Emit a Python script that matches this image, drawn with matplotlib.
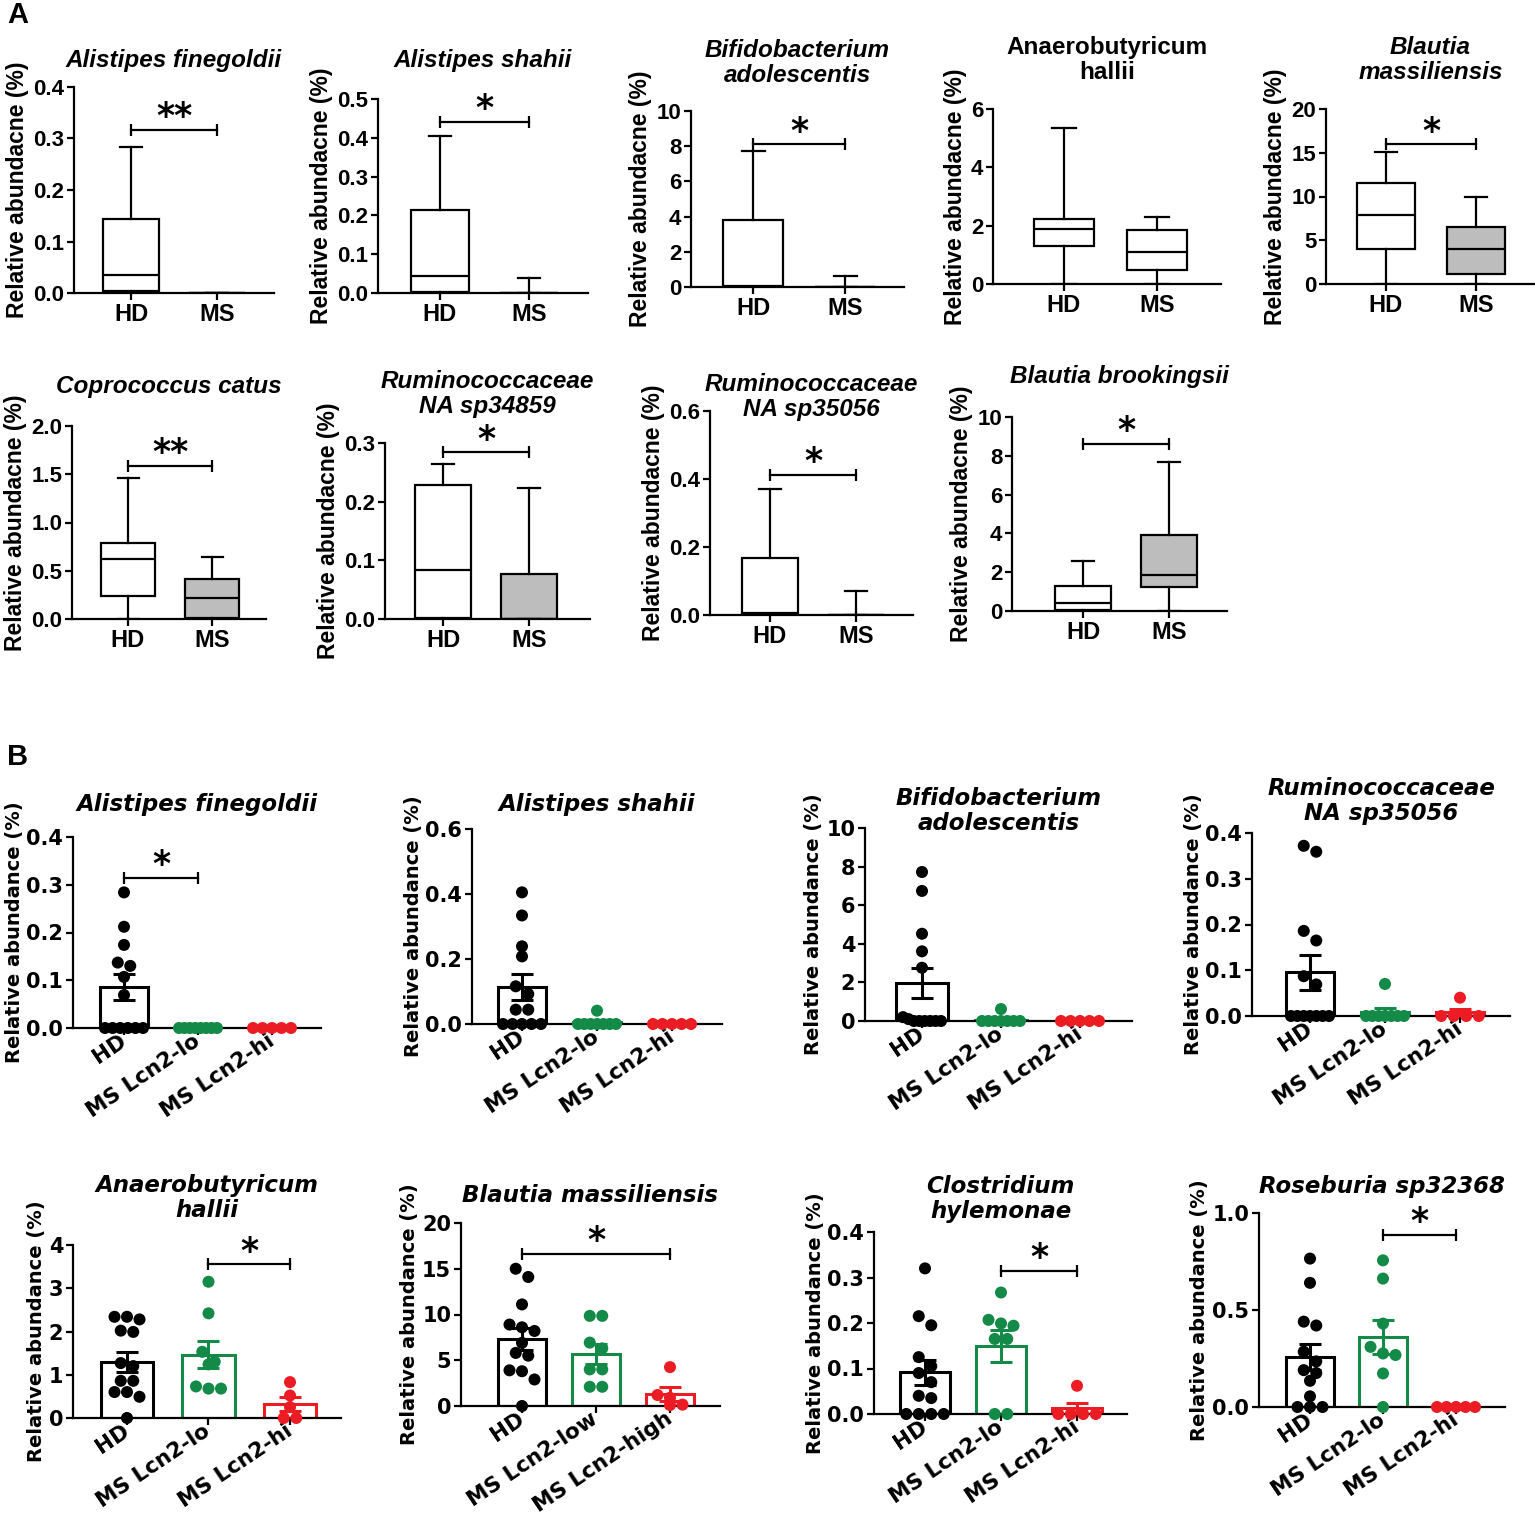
import numpy as np
import matplotlib
matplotlib.use("Agg")
import matplotlib.pyplot as plt
from matplotlib.ticker import FormatStrFormatter

W, H = 1535, 1517

# ---------------- panel A: box plots, HD vs MS ----------------
a_titles = ["Alistipes finegoldii", "Alistipes shahii", "Bifidobacterium\nadolescentis",
            "Anaerobutyricum\nhallii", "Blautia\nmassiliensis", "Coprococcus catus",
            "Ruminococcaceae\nNA sp34859", "Ruminococcaceae\nNA sp35056", "Blautia brookingsii"]
a_italic = [True, True, True, False, True, True, True, True, True]
# (whislo, q1, median, q3, whishi)
a_hd = [(0, 0.003, 0.034, 0.143, 0.284),
        (0, 0.002, 0.043, 0.213, 0.405),
        (0, 0.02, 0.08, 3.8, 7.7),
        (0, 1.31, 1.89, 2.24, 5.35),
        (0, 4.0, 7.9, 11.5, 15.05),
        (0, 0.24, 0.62, 0.79, 1.456),
        (0, 0.002, 0.084, 0.229, 0.264),
        (0, 0.002, 0.005, 0.167, 0.37),
        (0, 0.07, 0.43, 1.28, 2.59)]
a_ms = [(0, 0, 0, 0, 0),
        (0, 0, 0, 0, 0.039),
        (0, 0, 0, 0, 0.6),
        (0, 0.49, 1.10, 1.86, 2.29),
        (0, 1.14, 4.0, 6.5, 9.9),
        (0, 0.01, 0.22, 0.41, 0.647),
        (0, 0, 0, 0.076, 0.223),
        (0, 0, 0, 0, 0.071),
        (0, 1.24, 1.84, 3.91, 7.69)]
a_ms_grey = [False, False, False, False, True, True, True, False, True]
a_sig = [("**", 0.316), ("*", 0.44), ("*", 8.1), None, ("*", 15.96),
         ("**", 1.584), ("*", 0.284), ("*", 0.412), ("*", 8.62)]
a_ymax = [0.4, 0.5, 10, 6, 20, 2.0, 0.3, 0.6, 10]
a_ystep = [0.1, 0.1, 2, 2, 5, 0.5, 0.1, 0.2, 2]
a_groups = ["HD", "MS"]

# ---------------- panel B: bar + scatter, HD / MS Lcn2-lo / MS Lcn2-hi ----------------
b_titles = ["Alistipes finegoldii", "Alistipes shahii", "Bifidobacterium\nadolescentis",
            "Ruminococcaceae\nNA sp35056", "Anaerobutyricum\nhallii", "Blautia massiliensis",
            "Clostridium\nhylemonae", "Roseburia sp32368"]
b_hd = [[0.284, 0.212, 0.174, 0.137, 0.130, 0.107, 0.069, 0, 0, 0, 0, 0, 0],
        [0.405, 0.334, 0.239, 0.208, 0.116, 0.092, 0.044, 0.044, 0, 0, 0, 0, 0],
        [7.72, 6.74, 4.52, 3.61, 2.76, 0.2, 0.1, 0, 0, 0, 0, 0, 0],
        [0.372, 0.359, 0.186, 0.165, 0.087, 0.069, 0, 0, 0, 0, 0, 0, 0],
        [2.28, 2.34, 2.34, 1.99, 2.02, 1.27, 1.20, 0.86, 0.86, 0.60, 0.60, 0.49, 0],
        [15.0, 14.1, 11.1, 8.9, 8.6, 8.2, 6.9, 5.8, 5.5, 3.9, 3.8, 2.9, 0],
        [0.32, 0.215, 0.195, 0.125, 0.105, 0.09, 0.07, 0.04, 0.035, 0, 0, 0, 0],
        [0.765, 0.64, 0.44, 0.42, 0.285, 0.235, 0.19, 0.175, 0.135, 0.055, 0, 0, 0]]
b_lo = [[0, 0, 0, 0, 0, 0, 0, 0],
        [0.041, 0, 0, 0, 0, 0, 0, 0],
        [0.62, 0, 0, 0, 0, 0, 0, 0],
        [0.07, 0, 0, 0, 0, 0, 0, 0],
        [3.15, 2.42, 1.53, 1.30, 1.24, 0.73, 0.68, 0.68],
        [9.85, 9.85, 6.93, 6.3, 4.0, 4.0, 2.1, 2.1],
        [0.267, 0.207, 0.199, 0.194, 0.165, 0.165, 0, 0],
        [0.756, 0.662, 0.43, 0.31, 0.276, 0.268, 0.173, 0]]
b_hi = [[0, 0, 0, 0, 0],
        [0, 0, 0, 0, 0],
        [0, 0, 0, 0, 0],
        [0.04, 0, 0, 0, 0],
        [0.83, 0.52, 0.25, 0, 0],
        [4.25, 1.2, 0.9, 0.15, 0.1],
        [0.062, 0, 0, 0, 0],
        [0, 0, 0, 0, 0]]
# (group i, group j, label, height)
b_sig = [(0, 1, "*", 0.315), None, None, None, (1, 2, "*", 3.55),
         (0, 2, "*", 16.6), (1, 2, "*", 0.315), (1, 2, "*", 0.889)]
b_ymax = [0.4, 0.6, 10, 0.4, 4, 20, 0.4, 1.0]
b_ystep = [0.1, 0.2, 2, 0.1, 1, 5, 0.1, 0.5]
b_groups = ["HD", "MS Lcn2-lo", "MS Lcn2-hi"]
b_groups_alt = ["HD", "MS Lcn2-low", "MS Lcn2-high"]
b_colors = ["#000000", "#138a47", "#ec1c24"]

# layout in pixels: y-axis x, x-axis end, y of zero, y of top tick, first category x, category step, title y
a_layout = [(74, 274, 293, 87, 131, 86, 61),
            (378, 588, 293, 99, 440, 89, 61),
            (691, 904, 287, 111, 753, 92, 63),
            (993, 1221, 284, 109, 1064, 93, 60),
            (1326, 1535, 284, 109, 1386, 90, 60),
            (72, 266, 619, 426, 128, 84, 387),
            (385, 590, 619, 443, 443, 86, 394),
            (710, 913, 615, 411, 770, 86, 397),
            (1012, 1227, 611, 417, 1083, 86, 377)]
b_layout = [(73, 321, 1028, 837, 124, 74, 805),
            (472, 722, 1024, 829, 522, 75, 805),
            (865, 1132, 1021, 828, 922, 79, 811),
            (1252, 1510, 1016, 833, 1310, 75, 801),
            (73, 341, 1418, 1245, 127, 81.5, 1198),
            (461, 720, 1406, 1223, 522, 74, 1195),
            (874, 1127, 1414, 1232, 925, 76, 1199),
            (1259, 1505, 1407, 1213, 1310, 73, 1187)]

FA = "Liberation Sans"
FB = "DejaVu Sans"
LW = 1.6

fig = plt.figure(figsize=(W / 100, H / 100), dpi=100)


def make_ax(lay, ymax, ystep, font, tick_fs):
    x0, x1, y0, yt, c0, step, _ = lay
    ax = fig.add_axes([x0 / W, 1 - y0 / H, (x1 - x0) / W, (y0 - yt) / H])
    lo = -(c0 - x0) / step
    ax.set_xlim(lo, lo + (x1 - x0) / step)
    ax.set_ylim(0, ymax)
    ax.set_yticks(np.arange(0, ymax + ystep / 2, ystep))
    ax.yaxis.set_major_formatter(FormatStrFormatter("%.1f" if ystep < 1 else "%d"))
    for s in ["top", "right"]:
        ax.spines[s].set_visible(False)
    for s in ["left", "bottom"]:
        ax.spines[s].set_linewidth(LW)
    ax.tick_params(width=LW, length=5, pad=2)
    ax.patch.set_alpha(0)
    for lab in ax.get_yticklabels():
        lab.set_fontfamily(font)
        lab.set_fontweight("bold")
        lab.set_fontsize(tick_fs)
    return ax


def sig_bar(ax, i, j, y, s, fs):
    ax.plot([i, j], [y, y], color="black", lw=LW, marker="|", markersize=9, mew=LW,
            clip_on=False, zorder=6)
    ax.annotate(s, ((i + j) / 2, y), xytext=(0, -3), textcoords="offset points",
                ha="center", va="bottom", fontsize=fs, fontweight="bold",
                annotation_clip=False)


def title_at(lay, text, font, fs, italic):
    x0, x1 = lay[0], lay[1]
    fig.text((x0 + x1) / 2 / W, 1 - lay[6] / H, text, ha="center", va="center",
             fontsize=fs, fontweight="bold", fontstyle="italic" if italic else "normal",
             family=font, linespacing=1.12)


# ---- panel A ----
for k in range(9):
    lay = a_layout[k]
    ax = make_ax(lay, a_ymax[k], a_ystep[k], FA, 16)
    stats = []
    for q in (a_hd[k], a_ms[k]):
        stats.append(dict(whislo=q[0], q1=q[1], med=q[2], q3=q[3], whishi=q[4], fliers=[]))
    bp = ax.bxp(stats, positions=[0, 1], widths=0.65, patch_artist=True, showfliers=False,
                capwidths=0.25,
                boxprops=dict(linewidth=LW, edgecolor="black"),
                whiskerprops=dict(linewidth=LW, color="black"),
                capprops=dict(linewidth=LW, color="black"),
                medianprops=dict(linewidth=LW, color="black"))
    bp["boxes"][0].set_facecolor("white")
    bp["boxes"][1].set_facecolor("#bdbdbd" if a_ms_grey[k] else "white")
    ax.set_xticks([0, 1])
    ax.set_xticklabels(a_groups, fontsize=17, fontweight="bold", family=FA)
    ax.set_ylabel("Relative abundacne (%)", fontsize=16.5, fontweight="bold", family=FA,
                  labelpad=3)
    if a_sig[k] is not None:
        sig_bar(ax, 0, 1, a_sig[k][1], a_sig[k][0], 25)
    title_at(lay, a_titles[k], FA, 17.5, a_italic[k])


def swarm_x(ax, xc, vals, diam_px, half_px):
    vals = np.asarray(vals, dtype=float)
    order = np.argsort(-vals)
    ypix = ax.transData.transform(np.column_stack([np.full(len(vals), xc), vals]))[:, 1]
    xscale = ax.transData.transform([[1, 0]])[0, 0] - ax.transData.transform([[0, 0]])[0, 0]
    offs = np.zeros(len(vals))
    rows, cur = [], [order[0]]
    for idx in order[1:]:
        if abs(ypix[idx] - ypix[cur[0]]) < diam_px * 0.8:
            cur.append(idx)
        else:
            rows.append(cur)
            cur = [idx]
    rows.append(cur)
    for r in rows:
        n = len(r)
        if n == 1:
            continue
        sp = min(diam_px, 2 * half_px / (n - 1))
        for m, idx in enumerate(r):
            offs[idx] = (m - (n - 1) / 2) * sp / xscale
    return xc + offs


# ---- panel B ----
for k in range(8):
    lay = b_layout[k]
    ax = make_ax(lay, b_ymax[k], b_ystep[k], FB, 15)
    groups = [b_hd[k], b_lo[k], b_hi[k]]
    for g, vals in enumerate(groups):
        v = np.asarray(vals, dtype=float)
        mean = v.mean()
        sem = v.std(ddof=1) / np.sqrt(len(v))
        c = b_colors[g]
        ax.bar(g, mean, width=0.65, facecolor="white", edgecolor=c, linewidth=2.2, zorder=2)
        xs = swarm_x(ax, g, v, 12.5, 19)
        ax.scatter(xs, v, s=75, color=c, edgecolors="none", zorder=3, clip_on=False)
        ax.errorbar(g, mean, yerr=sem, color=c, capsize=8, elinewidth=2.2, capthick=2.2,
                    zorder=4)
    ax.set_xticks([0, 1, 2])
    ax.set_xticklabels(b_groups_alt if k == 5 else b_groups, rotation=34, ha="right",
                       va="center", rotation_mode="anchor", fontsize=15.5,
                       fontweight="bold", family=FB)
    ax.tick_params(axis="x", pad=3)
    ax.set_ylabel("Relative abundance (%)", fontsize=14, fontweight="bold", family=FB,
                  labelpad=2)
    if b_sig[k] is not None:
        i, j, s, y = b_sig[k]
        sig_bar(ax, i, j, y, s, 25)
    title_at(lay, b_titles[k], FB, 16.5, True)

fig.text(18 / W, 1 - 15 / H, "A", fontsize=21, fontweight="bold", family=FA,
         ha="center", va="center")
fig.text(18 / W, 1 - 757 / H, "B", fontsize=21, fontweight="bold", family=FA,
         ha="center", va="center")

fig.savefig("out.png", dpi=100, facecolor="white")
